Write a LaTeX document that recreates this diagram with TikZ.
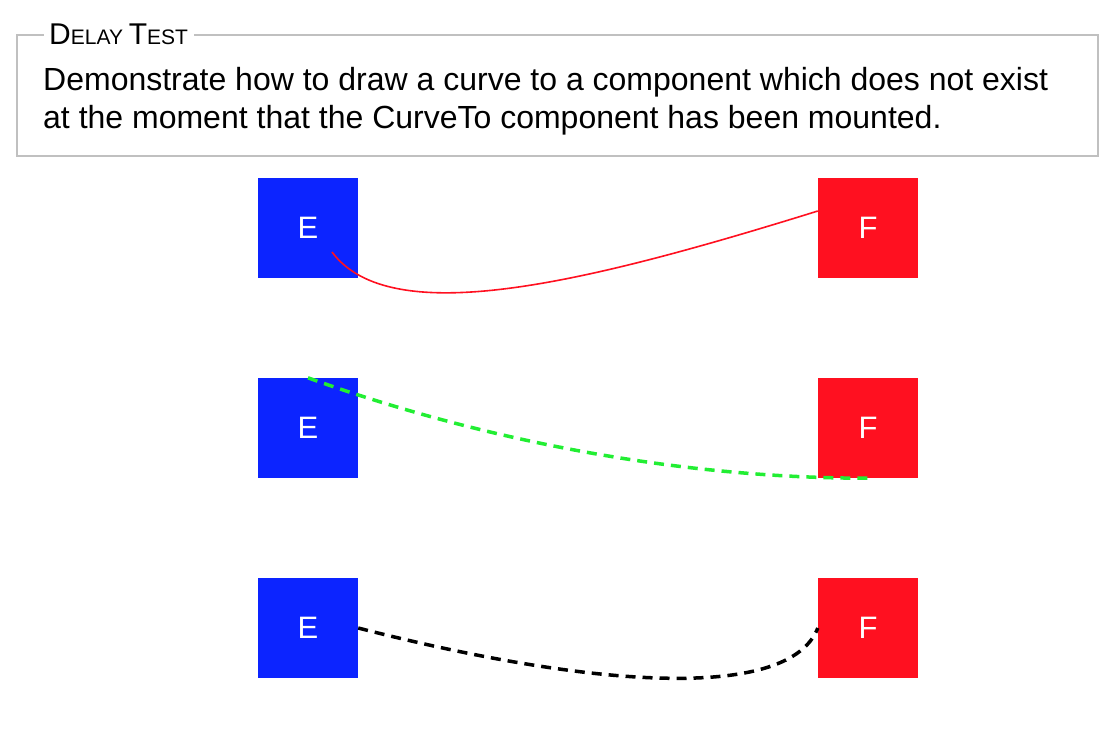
\documentclass[tikz,border=0pt]{standalone}
\usepackage{fontspec}
\setmainfont{Liberation Sans}
\definecolor{boxblue}{RGB}{12,36,255}
\definecolor{boxred}{RGB}{255,16,32}
\definecolor{framegray}{RGB}{192,192,192}
\definecolor{curvegreen}{RGB}{34,238,51}
\begin{document}
\begin{tikzpicture}[x=1pt,y=-1pt,
  bluebox/.style={fill=boxblue,minimum size=100pt,inner sep=0pt,text=white,font=\fontsize{31}{31}\selectfont},
  redbox/.style={fill=boxred,minimum size=100pt,inner sep=0pt,text=white,font=\fontsize{31}{31}\selectfont},
  maintext/.style={anchor=base west,inner sep=0pt,font=\fontsize{32}{32}\selectfont},
  redcurve/.style={draw=boxred,line width=1.6pt},
  greencurve/.style={draw=curvegreen,line width=3.5pt,dash pattern=on 10pt off 7pt},
  blackcurve/.style={draw=black,line width=3.5pt,dash pattern=on 10pt off 7pt}]
\useasboundingbox (0,0) rectangle (1114,740);
\fill[white] (0,0) rectangle (1114,740);
% frame
\draw[framegray,line width=2pt] (17,34.5) rectangle (1098,156);
\node[fill=white,inner xsep=5.5pt,inner ysep=2pt,anchor=base west] (title) at (43.5,44)
  {\fontsize{30}{30}\selectfont D\fontsize{21}{21}\selectfont ELAY \fontsize{30}{30}\selectfont T\fontsize{21}{21}\selectfont EST};
\node[maintext] (line1) at (43,90) {Demonstrate how to draw a curve to a component which does not exist};
\node[maintext] (line2) at (43,128) {at the moment that the CurveTo component has been mounted.};
% boxes
\node[bluebox] (e1) at (308,228) {E};
\node[redbox]  (f1) at (868,228) {F};
\node[bluebox] (e2) at (308,428) {E};
\node[redbox]  (f2) at (868,428) {F};
\node[bluebox] (e3) at (308,628) {E};
\node[redbox]  (f3) at (868,628) {F};
\coordinate (r1s) at ([shift={(24,24)}]e1.center);
\coordinate (r1e) at ([shift={(0,-17)}]f1.west);
% curves
\draw[redcurve] (r1s) .. controls +(58,78) and +(-238,74) .. (r1e);
\draw[greencurve] (e2.north) .. controls +(142,51) and +(-218,0) .. (f2.south);
\draw[blackcurve] (e3.east) .. controls +(242,62) and +(-28,72) .. (f3.west);
\end{tikzpicture}
\end{document}
